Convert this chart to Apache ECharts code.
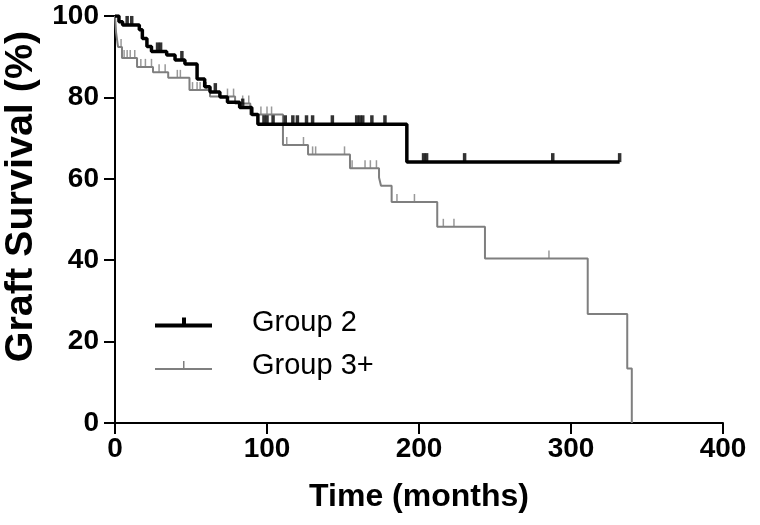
<!DOCTYPE html>
<html>
<head>
<meta charset="utf-8">
<script src="https://cdn.jsdelivr.net/npm/echarts@6/dist/echarts.min.js"></script>
<style>html,body{margin:0;padding:0;background:#fff}#c{width:760px;height:525px}</style>
</head>
<body>
<div id="c"></div>
<script>
// Kaplan-Meier steps: [time (months), survival % after event]
var group2Steps = [[0,100],[2.6,98.6],[5,97.8],[16,96.6],[18,94.5],[21,92.5],[24,91.3],[34,90.4],[39.5,89.2],[46,88.2],[54,84.5],[59,82.6],[62.5,81.3],[69,80.1],[74,78.8],[82,77.5],[90,75.8],[94,73.4],[192,64.1],[332,64.1]];
var group3Steps = [[0,100],[0.7,96],[2,92.4],[4.6,89.7],[14.5,87.5],[25,86.2],[35,84.8],[49,81.8],[62.5,80.2],[79,78.5],[89,75.8],[110.5,68.3],[127,66],[154.6,62.6],[173.7,60.3],[175,58.3],[182,54.3],[212,48.2],[243.4,40.4],[311,26.8],[337,13.4],[340,0]];
// censored observations (months)
var group2Censor = [8,11,28,30,44,66,84,98,100,104,112,117,120,126,130,143,159,161,163,169,177.6,203,205,230,288,332];
var group3Censor = [4,6,8,10,13,17,20,24,29,33,41,43,51,54,56,60,74,78,84,88,96,100,103,113,124,130,132,151,156,164.5,168,172,185.5,197,216,223,285.5];
var xTicks = [0,100,200,300,400];
var yTicks = [0,20,40,60,80,100];
var seriesNames = ['Group 2','Group 3+'];

function survAt(steps, t){
  var v = steps[0][1];
  for (var i=0;i<steps.length;i++){ if (steps[i][0] <= t) v = steps[i][1]; }
  return v;
}
function censorPts(steps, times){ return times.map(function(t){ return [t, survAt(steps,t)]; }); }

var FONT = "'Liberation Sans', Arial, Helvetica, sans-serif";
var BLACK = '#000000', GRAY = '#7f7f7f';

var chart = echarts.init(document.getElementById('c'), null, {renderer:'canvas'});
chart.setOption({
  backgroundColor:'#ffffff',
  animation:false,
  grid:{left:115, right:37, top:16, bottom:102, containLabel:false, outerBoundsMode:'none'},
  xAxis:{
    type:'value', min:xTicks[0], max:xTicks[xTicks.length-1], interval:xTicks[1]-xTicks[0],
    name:'Time (months)', nameLocation:'middle', nameGap:58,
    nameTextStyle:{fontFamily:FONT, fontWeight:'bold', fontSize:32, color:'#000'},
    axisLine:{show:true, onZero:false, lineStyle:{color:'#000', width:2}},
    axisTick:{show:true, inside:false, length:11, lineStyle:{color:'#000', width:2}},
    axisLabel:{fontFamily:FONT, fontWeight:'bold', fontSize:28, color:'#000', margin:12},
    splitLine:{show:false}
  },
  yAxis:{
    type:'value', min:yTicks[0], max:yTicks[yTicks.length-1], interval:yTicks[1]-yTicks[0],
    name:'Graft Survival (%)', nameLocation:'middle', nameGap:72, nameRotate:90,
    nameTextStyle:{fontFamily:FONT, fontWeight:'bold', fontSize:39.5, color:'#000', padding:[0,0,0,46]},
    axisLine:{show:true, onZero:false, lineStyle:{color:'#000', width:2}},
    axisTick:{show:true, inside:false, length:11, lineStyle:{color:'#000', width:2}},
    axisLabel:{fontFamily:FONT, fontWeight:'bold', fontSize:28, color:'#000', margin:16},
    splitLine:{show:false}
  },
  legend:{
    orient:'vertical', left:155, top:308, padding:0, itemGap:14, itemWidth:57, itemHeight:12,
    textStyle:{fontFamily:FONT, fontSize:29, color:'#000', padding:[0,0,0,35]},
    data:[
      {name:seriesNames[0], icon:'path://M0,7 L57,7 L57,11 L0,11 Z M27,1 L31,1 L31,11 L27,11 Z'},
      {name:seriesNames[1], icon:'path://M0,9 L57,9 L57,11 L0,11 Z M28,2 L29.5,2 L29.5,11 L28,11 Z'}
    ]
  },
  series:[
    {name:seriesNames[1], type:'line', step:'end', data:group3Steps, showSymbol:false, symbol:'none',
     color:GRAY, lineStyle:{color:GRAY, width:2}, z:2},
    {name:seriesNames[1]+' censored', type:'scatter', data:censorPts(group3Steps, group3Censor),
     symbol:'rect', symbolSize:[1.5,8], symbolOffset:[0,-4], itemStyle:{color:GRAY}, z:2},
    {name:seriesNames[0], type:'line', step:'end', data:group2Steps, showSymbol:false, symbol:'none',
     color:BLACK, lineStyle:{color:BLACK, width:3.5}, z:3},
    {name:seriesNames[0]+' censored', type:'scatter', data:censorPts(group2Steps, group2Censor),
     symbol:'rect', symbolSize:[3.5,9], symbolOffset:[0,-4.5], itemStyle:{color:BLACK}, z:3}
  ]
});
</script>
</body>
</html>
